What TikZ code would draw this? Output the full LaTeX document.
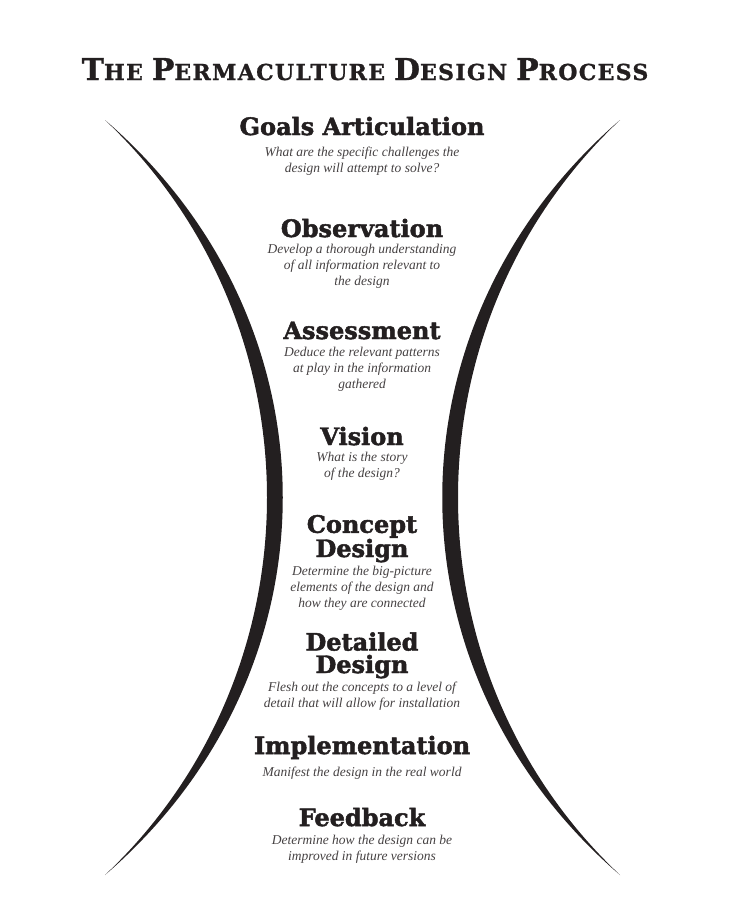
\documentclass[tikz,border=0pt]{standalone}
\usepackage{fontspec}
\usepackage{tikz}
\usetikzlibrary{positioning}
\newfontfamily\pdheadfont{DejaVu Serif}[FakeBold=2]
\newfontfamily\pdtitlefont{DejaVu Serif}[LetterSpace=6,FakeBold=1]
\newfontfamily\pdnotefont{Liberation Serif}
\definecolor{pdink}{HTML}{231F20}
\definecolor{pdgrey}{HTML}{454142}
\newcommand\pdcap[2]{{\fontsize{30}{30}\selectfont #1}#2}
\tikzset{
  pdtitle/.style={font=\pdtitlefont\bfseries\fontsize{22}{22}\selectfont, text=pdink, inner sep=0pt, anchor=base},
  pdstep/.style={font=\pdheadfont\bfseries\fontsize{24}{22.5}\selectfont, text=pdink, align=center, inner sep=0pt, anchor=base},
  pdnote/.style={font=\pdnotefont\itshape\fontsize{13.5}{15.8}\selectfont, text=pdgrey, align=center, inner sep=0pt, anchor=base},
  pdarc/.style={fill=pdink, draw=none}
}
\begin{document}
\begin{tikzpicture}[x=1pt,y=-1pt]
  \useasboundingbox (0,0) rectangle (730,900);

  \node[pdtitle] (title) at (365,80) {\pdcap{T}{HE} \pdcap{P}{ERMACULTURE} \pdcap{D}{ESIGN} \pdcap{P}{ROCESS}};

  \fill[pdarc] (105,120) .. controls (321,324) and (321,671) .. (105,875)
    .. controls (342,671) and (342,324) .. (105,120) -- cycle;
  \fill[pdarc] (620,120) .. controls (404,324) and (404,671) .. (620,875)
    .. controls (383,671) and (383,324) .. (620,120) -- cycle;

  \node[pdstep] (goals) at (362,135) {Goals Articulation};
  \node[pdnote] (goalsnote) at (362,172) {What are the specific challenges the\\design will attempt to solve?};

  \node[pdstep] (observe) at (362,237) {Observation};
  \node[pdnote] (observenote) at (362,285) {Develop a thorough understanding\\of all information relevant to\\the design};

  \node[pdstep] (assess) at (362,339) {Assessment};
  \node[pdnote] (assessnote) at (362,388) {Deduce the relevant patterns\\at play in the information\\gathered};

  \node[pdstep] (vision) at (362,445) {Vision};
  \node[pdnote] (visionnote) at (362,477) {What is the story\\of the design?};

  \node[pdstep] (concept) at (362,557) {Concept\\Design};
  \node[pdnote] (conceptnote) at (362,607) {Determine the big-picture\\elements of the design and\\how they are connected};

  \node[pdstep] (detail) at (362,673) {Detailed\\Design};
  \node[pdnote] (detailnote) at (362,707) {Flesh out the concepts to a level of\\detail that will allow for installation};

  \node[pdstep] (implement) at (362,754) {Implementation};
  \node[pdnote] (implementnote) at (362,776) {Manifest the design in the real world};

  \node[pdstep] (feedback) at (362,826) {Feedback};
  \node[pdnote] (feedbacknote) at (362,860) {Determine how the design can be\\improved in future versions};
\end{tikzpicture}
\end{document}
